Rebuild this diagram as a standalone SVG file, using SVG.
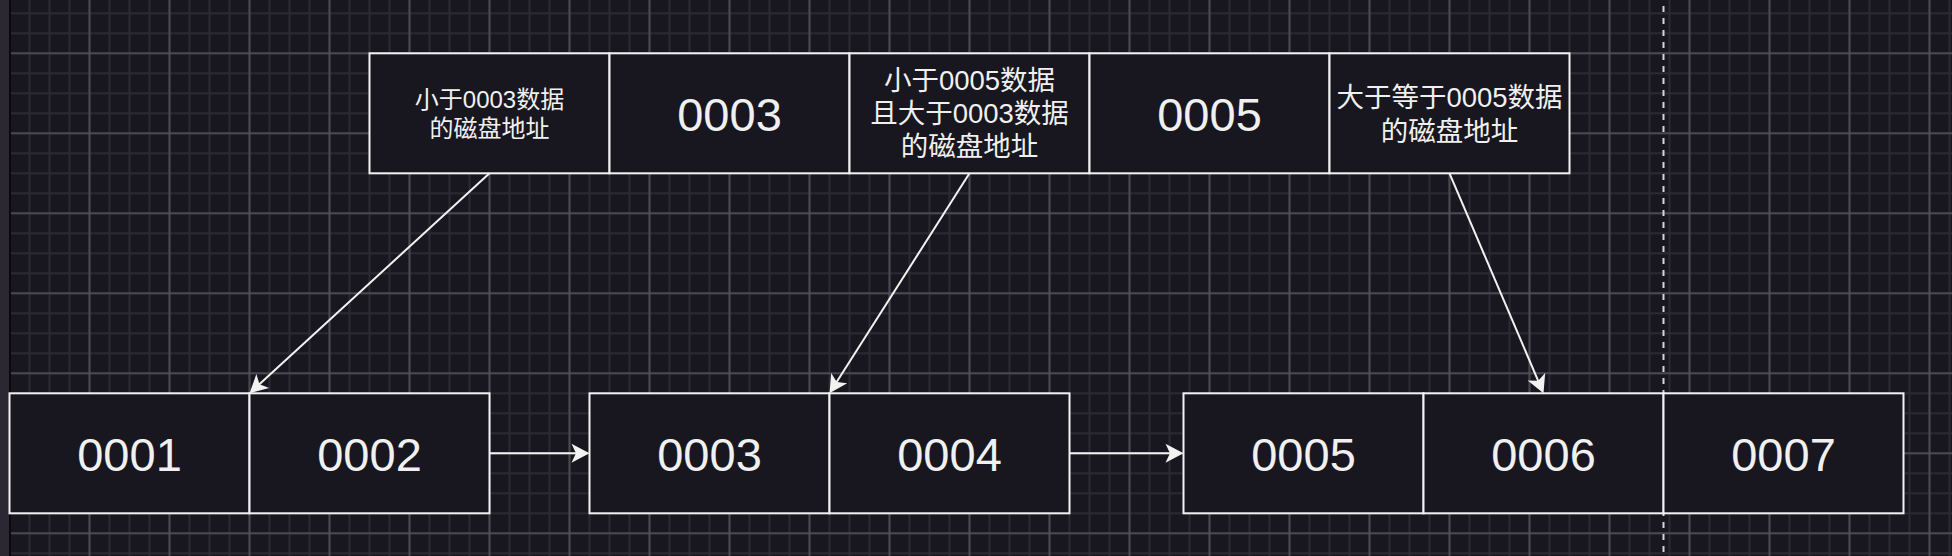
<svg xmlns="http://www.w3.org/2000/svg" width="1952" height="556" viewBox="0 0 1952 556">
  <defs>
    <pattern id="minor" patternUnits="userSpaceOnUse" x="-0.5" y="3.3" width="20" height="20">
      <path d="M10 0 V20 M0 10 H20" stroke="#2b2a30" stroke-width="2" fill="none"/>
    </pattern>
    <pattern id="major" patternUnits="userSpaceOnUse" x="-30.5" y="13.3" width="80" height="80">
      <path d="M40 0 V80 M0 40 H80" stroke="#55545a" stroke-width="1.5" fill="none"/>
    </pattern>
    <marker id="arrow" markerUnits="userSpaceOnUse" viewBox="-20 -10 22 20" markerWidth="22" markerHeight="20" refX="-13" refY="0" orient="auto">
      <path d="M0,0 L-18,-9.5 L-13.5,0 L-18,9.5 Z" fill="#f2f2f2"/>
    </marker>
    <style>
      .cell { fill: #18171f; stroke: #f2f2f2; stroke-width: 2; }
      .num { font-family: "Liberation Sans", Arial, sans-serif; font-size: 47px; fill: #f0f0f0; text-anchor: middle; }
      .cjk { font-family: "Liberation Sans", "Noto Sans CJK SC", sans-serif; fill: #f0f0f0; text-anchor: middle; }
      .edge { stroke: #f2f2f2; stroke-width: 2; fill: none; marker-end: url(#arrow); }
    </style>
  </defs>

  <!-- background -->
  <rect x="0" y="0" width="1952" height="556" fill="#18171f"/>
  <rect x="11" y="0" width="1941" height="556" fill="url(#minor)"/>
  <rect x="11" y="0" width="1941" height="556" fill="url(#major)"/>
  <rect x="0" y="0" width="9" height="556" fill="#2b2833"/>
  <rect x="9" y="0" width="2" height="556" fill="#0a0a0c"/>
  <line x1="1663.5" y1="6" x2="1663.5" y2="556" stroke="#d6d6d6" stroke-width="2" stroke-dasharray="6 6"/>

  <!-- top index node -->
  <g id="index-lt-0003">
    <rect class="cell" x="369.5" y="53.3" width="240" height="120"/>
    <text class="cjk" font-size="24" x="489.5"><tspan x="489.5" y="108">小于0003数据</tspan><tspan x="489.5" y="136.8">的磁盘地址</tspan></text>
  </g>
  <g id="index-0003">
    <rect class="cell" x="609.5" y="53.3" width="240" height="120"/>
    <text class="num" x="729.5" y="130.5">0003</text>
  </g>
  <g id="index-between">
    <rect class="cell" x="849.5" y="53.3" width="240" height="120"/>
    <text class="cjk" font-size="27.5" x="969.5"><tspan x="969.5" y="90.3">小于0005数据</tspan><tspan x="969.5" y="123.3">且大于0003数据</tspan><tspan x="969.5" y="156.3">的磁盘地址</tspan></text>
  </g>
  <g id="index-0005">
    <rect class="cell" x="1089.5" y="53.3" width="240" height="120"/>
    <text class="num" x="1209.5" y="130.5">0005</text>
  </g>
  <g id="index-ge-0005">
    <rect class="cell" x="1329.5" y="53.3" width="240" height="120"/>
    <text class="cjk" font-size="27.5" x="1449.5"><tspan x="1449.5" y="107">大于等于0005数据</tspan><tspan x="1449.5" y="140.5">的磁盘地址</tspan></text>
  </g>

  <!-- leaf nodes -->
  <g id="leaf-0001">
    <rect class="cell" x="9.5" y="393.3" width="240" height="120"/>
    <text class="num" x="129.5" y="470.5">0001</text>
  </g>
  <g id="leaf-0002">
    <rect class="cell" x="249.5" y="393.3" width="240" height="120"/>
    <text class="num" x="369.5" y="470.5">0002</text>
  </g>
  <g id="leaf-0003">
    <rect class="cell" x="589.5" y="393.3" width="240" height="120"/>
    <text class="num" x="709.5" y="470.5">0003</text>
  </g>
  <g id="leaf-0004">
    <rect class="cell" x="829.5" y="393.3" width="240" height="120"/>
    <text class="num" x="949.5" y="470.5">0004</text>
  </g>
  <g id="leaf-0005">
    <rect class="cell" x="1183.5" y="393.3" width="240" height="120"/>
    <text class="num" x="1303.5" y="470.5">0005</text>
  </g>
  <g id="leaf-0006">
    <rect class="cell" x="1423.5" y="393.3" width="240" height="120"/>
    <text class="num" x="1543.5" y="470.5">0006</text>
  </g>
  <g id="leaf-0007">
    <rect class="cell" x="1663.5" y="393.3" width="240" height="120"/>
    <text class="num" x="1783.5" y="470.5">0007</text>
  </g>

  <!-- connectors -->
  <g id="connectors">
    <path class="edge" d="M489.5 173.3 L259.1 384.5"/>
    <path class="edge" d="M969.5 173.3 L836.5 382.3"/>
    <path class="edge" d="M1449.5 173.3 L1538.4 381.3"/>
    <path class="edge" d="M489.5 453.3 L576.5 453.3"/>
    <path class="edge" d="M1069.5 453.3 L1170.5 453.3"/>
  </g>
</svg>
